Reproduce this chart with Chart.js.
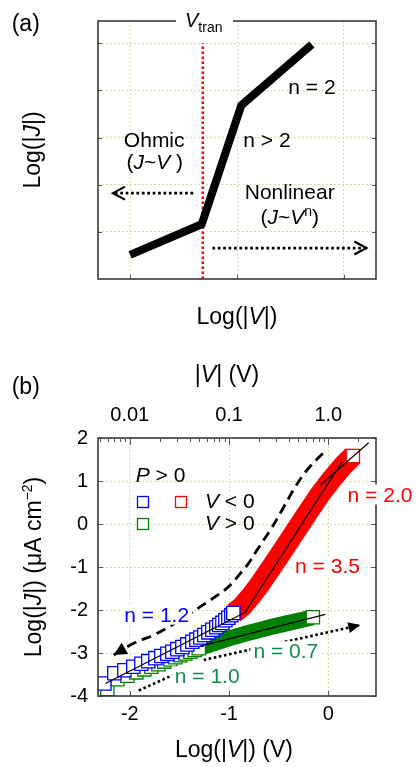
<!DOCTYPE html>
<html>
<head>
<meta charset="utf-8">
<script src="https://cdn.jsdelivr.net/npm/chart.js@4.4.0/dist/chart.umd.min.js"></script>
<style>
  html, body { margin: 0; padding: 0; background: #fff; }
  #wrapA { position: absolute; left: 0; top: 0; width: 419px; height: 340px; }
  #wrapB { position: absolute; left: 0; top: 360px; width: 419px; height: 407px; }
</style>
</head>
<body>
<div id="wrapA"><canvas id="chartA" width="419" height="340"></canvas></div>
<div id="wrapB"><canvas id="chartB" width="419" height="407"></canvas></div>
<script>
// ---- panel (a): schematic ----
const schemeX = [0, 0.67, 1.04, 1.70];
const schemeY = [0.51, 1.16, 3.68, 4.97];
const vtranX = [0.68, 0.68];
const vtranY = [0, 5];
const ohmicArrowX = [0.59, -0.16];
const ohmicArrowY = [1.82, 1.82];
const nonlinArrowX = [0.77, 2.21];
const nonlinArrowY = [0.656, 0.656];
const xTicksA = [0, 1, 2];
const yTicksA = [1, 2, 3, 4, 5];

// ---- panel (b): measured J-V ----
const blueLogV = [-2.256, -2.155, -2.054, -1.964, -1.883, -1.813, -1.742, -1.682, -1.621, -1.571, -1.521, -1.470, -1.420,
  -1.370, -1.329, -1.289, -1.249, -1.208, -1.168, -1.128, -1.098, -1.067, -1.037, -1.007, -0.977, -0.957];
const blueLogJ = [-3.71, -3.47, -3.40, -3.32, -3.25, -3.19, -3.12, -3.07, -3.02, -2.97, -2.91, -2.86, -2.80,
  -2.74, -2.69, -2.64, -2.58, -2.52, -2.46, -2.40, -2.35, -2.30, -2.24, -2.18, -2.12, -2.07];
const redLogV = [-0.95, -0.87, -0.78, -0.68, -0.56, -0.44, -0.32, -0.20, -0.08, 0.04, 0.15, 0.247];
const redLogJ = [-2.07, -1.92, -1.68, -1.37, -0.96, -0.55, -0.13, 0.29, 0.70, 1.06, 1.36, 1.58];
const greenLowV = [-2.226, -2.125, -2.024, -1.934, -1.853, -1.783, -1.712, -1.652, -1.591, -1.541, -1.491, -1.440, -1.390, -1.345, -1.305];
const greenLowJ = [-3.84, -3.61, -3.53, -3.45, -3.38, -3.32, -3.26, -3.20, -3.15, -3.10, -3.05, -3.01, -2.97, -2.93, -2.89];
const greenHighV = [-1.305, -1.15, -1.00, -0.85, -0.70, -0.55, -0.40, -0.25, -0.156];
const greenHighJ = [-2.89, -2.77, -2.66, -2.56, -2.47, -2.38, -2.30, -2.22, -2.17];

// fitted slopes
const fit12V = [-2.245, -0.826], fit12J = [-3.71, -2.04];
const fit35V = [-0.836, 0.138], fit35J = [-2.04, 1.45];
const fit20V = [-0.08, 0.406], fit20J = [0.907, 1.89];
const fit07V = [-1.289, -0.03], fit07J = [-2.84, -2.10];

// guide arrows
const dashV = [-2.162, -1.961, -1.759, -1.574, -1.390, -1.239, -1.088, -0.987, -0.886, -0.803, -0.718, -0.584, -0.466, -0.332, -0.215, -0.03];
const dashJ = [-3.047, -2.774, -2.581, -2.349, -2.077, -1.844, -1.612, -1.419, -1.147, -0.914, -0.605, -0.140, 0.326, 0.867, 1.256, 1.70];
const dot07V = [-1.256, 0.322], dot07J = [-3.163, -2.349];
const dot10V = [-1.91, -1.541], dot10J = [-3.872, -3.488];

const xTicksB = [-2, -1, 0];
const topTickV = [0.01, 0.1, 1];
const topTickLabels = ['0.01', '0.1', '1.0'];
const topMinorV = [0.005, 0.006, 0.007, 0.008, 0.009, 0.02, 0.03, 0.04, 0.05, 0.06, 0.07, 0.08, 0.09,
  0.2, 0.3, 0.4, 0.5, 0.6, 0.7, 0.8, 0.9, 2, 3];

const FONT = '"Liberation Sans", Arial, Helvetica, sans-serif';
const GRID = '#d5dfa2';
const FRAME = '#3a3a3a';
const RED = '#ff0000', BLUE = '#0000ff', GREEN = '#008000', GREEN_TXT = '#138a4c';

const xy = (xs, ys) => xs.map((x, i) => ({ x: x, y: ys[i] }));
const fnt = (size, it) => (it ? 'italic ' : '') + size + 'px ' + FONT;

// parts: [text, size, italic, rise]
function rich(ctx, parts, x, y, opt) {
  opt = opt || {};
  ctx.save();
  ctx.translate(x, y);
  if (opt.rot) ctx.rotate(opt.rot);
  let w = 0;
  const ws = parts.map(p => {
    ctx.font = fnt(p[1], p[2]);
    const m = ctx.measureText(p[0]).width;
    w += m;
    return m;
  });
  let cx = opt.align === 'left' ? 0 : -w / 2;
  if (opt.bg) {
    ctx.fillStyle = '#fff';
    ctx.fillRect(cx - 3, -opt.bg[0], w + 6, opt.bg[0] + opt.bg[1]);
  }
  ctx.fillStyle = opt.color || '#000';
  ctx.textAlign = 'left';
  ctx.textBaseline = 'alphabetic';
  parts.forEach((p, i) => {
    ctx.font = fnt(p[1], p[2]);
    ctx.fillText(p[0], cx, -(p[3] || 0));
    cx += ws[i];
  });
  ctx.restore();
}

function frameAndTicks(chart, yKey, xKey, len) {
  const ctx = chart.ctx, a = chart.chartArea;
  const ys = chart.scales[yKey], xs = chart.scales[xKey];
  ctx.save();
  ctx.strokeStyle = '#555';
  ctx.lineWidth = 1;
  ctx.beginPath();
  ys.ticks.forEach(t => {
    const p = Math.round(ys.getPixelForValue(t.value)) + 0.5;
    ctx.moveTo(a.left, p); ctx.lineTo(a.left + len, p);
    ctx.moveTo(a.right, p); ctx.lineTo(a.right - len, p);
  });
  xs.ticks.forEach(t => {
    const p = Math.round(xs.getPixelForValue(t.value)) + 0.5;
    ctx.moveTo(p, a.bottom); ctx.lineTo(p, a.bottom - len);
  });
  ctx.stroke();
  ctx.strokeStyle = FRAME;
  ctx.lineWidth = 1.6;
  ctx.strokeRect(a.left, a.top, a.right - a.left, a.bottom - a.top);
  ctx.restore();
}

function arrowHeads(chart) {
  const ctx = chart.ctx;
  chart.data.datasets.forEach((ds, di) => {
    if (!ds.arrow) return;
    const pts = chart.getDatasetMeta(di).data;
    const n = pts.length;
    const tip = ds.arrow.at === 'start' ? pts[0] : pts[n - 1];
    const from = ds.arrow.at === 'start' ? pts[1] : pts[n - 2];
    const ang = Math.atan2(tip.y - from.y, tip.x - from.x);
    ctx.save();
    ctx.translate(tip.x, tip.y);
    ctx.rotate(ang);
    ctx.beginPath();
    ctx.moveTo(-ds.arrow.len, -ds.arrow.half);
    ctx.lineTo(0, 0);
    ctx.lineTo(-ds.arrow.len, ds.arrow.half);
    if (ds.arrow.filled) {
      ctx.closePath();
      ctx.fillStyle = '#000';
      ctx.fill();
    } else {
      ctx.strokeStyle = '#000';
      ctx.lineWidth = 2.2;
      ctx.stroke();
    }
    ctx.restore();
  });
}

Chart.defaults.font.family = FONT;
Chart.defaults.color = '#000';

// ---------- (a) ----------
const decorA = {
  id: 'decorA',
  afterDatasetsDraw(chart) { arrowHeads(chart); },
  afterDraw(chart) {
    const ctx = chart.ctx;
    frameAndTicks(chart, 'y', 'x', 4);
    // gap in the top border for the V_tran label
    ctx.fillStyle = '#fff';
    ctx.fillRect(176, 12, 57, 20);
    rich(ctx, [['V', 20, true], ['tran', 14, false, -5]], 185, 27, { align: 'left' });
    rich(ctx, [['(a)', 23]], 11.7, 31, { align: 'left' });
    rich(ctx, [['Log(|', 23], ['V', 23, true], ['|)', 23]], 237, 324);
    rich(ctx, [['Log(|', 23], ['J', 23, true], ['|)', 23]], 40, 150, { rot: -Math.PI / 2 });
    rich(ctx, [['n = 2', 21]], 312, 93.5);
    rich(ctx, [['n > 2', 21]], 267, 146.7);
    rich(ctx, [['Ohmic', 21]], 154.2, 146.7);
    rich(ctx, [['(', 21], ['J', 21, true], ['~', 21], ['V ', 21, true], [')', 21]], 154.7, 169);
    rich(ctx, [['Nonlinear', 21]], 289.7, 199.3);
    rich(ctx, [['(', 21], ['J', 21, true], ['~', 21], ['V', 21, true], ['n', 14, false, 8], [')', 21]], 289.7, 223.5);
  }
};

new Chart(document.getElementById('chartA'), {
  type: 'scatter',
  data: {
    datasets: [
      { data: xy(schemeX, schemeY), showLine: true, borderColor: '#000', borderWidth: 8,
        borderJoinStyle: 'miter', borderCapStyle: 'butt', pointRadius: 0, order: 0 },
      { data: xy(vtranX, vtranY), showLine: true, borderColor: RED, borderWidth: 2.5,
        borderDash: [2.5, 2.5], pointRadius: 0, order: 1 },
      { data: xy(ohmicArrowX, ohmicArrowY), showLine: true, borderColor: '#000', borderWidth: 2.7,
        borderDash: [2.7, 2.7], pointRadius: 0, order: 2, arrow: { at: 'end', len: 12, half: 6.5 } },
      { data: xy(nonlinArrowX, nonlinArrowY), showLine: true, borderColor: '#000', borderWidth: 2.7,
        borderDash: [2.7, 2.7], pointRadius: 0, order: 2, arrow: { at: 'end', len: 12, half: 6.5 } }
    ]
  },
  options: {
    responsive: false,
    animation: false,
    layout: { padding: { top: 21, right: 43, left: 0, bottom: 0 } },
    plugins: { legend: { display: false }, tooltip: { enabled: false } },
    scales: {
      x: {
        type: 'linear', min: -0.3, max: 2.3,
        afterBuildTicks: s => { s.ticks = xTicksA.map(v => ({ value: v })); },
        afterFit: s => { s.height = 61; },
        ticks: { display: false },
        grid: { color: GRID, drawTicks: false },
        border: { display: false, dash: [2, 2] }
      },
      y: {
        type: 'linear', min: 0, max: 5.47,
        afterBuildTicks: s => { s.ticks = yTicksA.map(v => ({ value: v })); },
        afterFit: s => { s.width = 98; },
        ticks: { display: false },
        grid: { color: GRID, drawTicks: false },
        border: { display: false, dash: [2, 2] }
      }
    }
  },
  plugins: [decorA]
});

// ---------- (b) ----------
const decorB = {
  id: 'decorB',
  afterDatasetsDraw(chart) { arrowHeads(chart); },
  afterDraw(chart) {
    const ctx = chart.ctx, a = chart.chartArea;
    frameAndTicks(chart, 'y', 'x', 5);
    // minor / major ticks on the top |V| axis
    const top = chart.scales.x2;
    ctx.save();
    ctx.strokeStyle = '#555';
    ctx.lineWidth = 1;
    ctx.beginPath();
    topTickV.forEach(v => {
      const p = Math.round(top.getPixelForValue(Math.log10(v))) + 0.5;
      ctx.moveTo(p, a.top); ctx.lineTo(p, a.top + 7);
    });
    topMinorV.forEach(v => {
      const p = Math.round(top.getPixelForValue(Math.log10(v))) + 0.5;
      if (p < a.left + 1 || p > a.right - 1) return;
      ctx.moveTo(p, a.top); ctx.lineTo(p, a.top + 4);
    });
    ctx.stroke();
    ctx.restore();

    rich(ctx, [['(b)', 23]], 11.7, 34, { align: 'left' });
    rich(ctx, [['|', 23], ['V', 23, true], ['| (V)', 23]], 227, 22);
    rich(ctx, [['Log(|', 23], ['V', 23, true], ['|) (V)', 23]], 234, 397);
    rich(ctx, [['Log(|', 23], ['J', 23, true], ['|) (μA cm', 23], ['−2', 14, false, 9], [')', 23]], 41, 207,
      { rot: -Math.PI / 2 });

    // legend
    rich(ctx, [['P', 21, true], [' > 0', 21]], 135.7, 122, { align: 'left' });
    rich(ctx, [['V', 21, true], [' < 0', 21]], 205, 148, { align: 'left' });
    rich(ctx, [['V', 21, true], [' > 0', 21]], 205, 170, { align: 'left' });
    ctx.save();
    ctx.lineWidth = 1.3;
    [[143, 142, BLUE], [181, 142, RED], [143, 164, GREEN]].forEach(s => {
      ctx.fillStyle = '#fff';
      ctx.strokeStyle = s[2];
      ctx.fillRect(s[0] - 5.5, s[1] - 5.5, 11, 11);
      ctx.strokeRect(s[0] - 5.5, s[1] - 5.5, 11, 11);
    });
    ctx.restore();

    // slope labels
    const bg = [17, 3];
    rich(ctx, [['n = 2.0', 21]], 380, 141.5, { color: RED, bg: bg });
    rich(ctx, [['n = 3.5', 21]], 327.5, 213.3, { color: RED, bg: bg });
    rich(ctx, [['n = 1.2', 21]], 156.7, 261.7, { color: BLUE, bg: bg });
    rich(ctx, [['n = 0.7', 21]], 285.8, 298.3, { color: GREEN_TXT, bg: bg });
    rich(ctx, [['n = 1.0', 21]], 207.2, 323.3, { color: GREEN_TXT, bg: bg });
  }
};

const SQ = 9.4; // rect point radius -> ~13 px square
const lastOnly = n => c => (c.dataIndex === n - 1 ? SQ : 0);
const fitLine = (xs, ys) => ({
  data: xy(xs, ys), showLine: true, borderColor: '#000', borderWidth: 1.2, pointRadius: 0, order: 1
});

new Chart(document.getElementById('chartB'), {
  type: 'scatter',
  data: {
    datasets: [
      { data: xy(dashV, dashJ), showLine: true, tension: 0.35, borderColor: '#000', borderWidth: 2.8,
        borderDash: [10, 6], borderCapStyle: 'butt', pointRadius: 0, order: 0,
        arrow: { at: 'start', len: 13, half: 6.5, filled: true } },
      { data: xy(dot07V, dot07J), showLine: true, borderColor: '#000', borderWidth: 2.6,
        borderDash: [2.6, 2.6], pointRadius: 0, order: 0,
        arrow: { at: 'end', len: 12, half: 5.5, filled: true } },
      { data: xy(dot10V, dot10J), showLine: true, borderColor: '#000', borderWidth: 2.6,
        borderDash: [2.6, 2.6], pointRadius: 0, order: 0 },
      fitLine(fit12V, fit12J),
      fitLine(fit35V, fit35J),
      fitLine(fit20V, fit20J),
      fitLine(fit07V, fit07J),
      { data: xy(blueLogV, blueLogJ), pointStyle: 'rect', pointRadius: SQ, pointBorderWidth: 1.3,
        pointBorderColor: BLUE, pointBackgroundColor: '#fff', order: 2 },
      { data: xy(redLogV, redLogJ), showLine: true, borderColor: RED, borderWidth: 21,
        borderJoinStyle: 'round', borderCapStyle: 'butt', pointStyle: 'rect',
        pointRadius: lastOnly(redLogV.length), pointBorderWidth: 1.3,
        pointBorderColor: RED, pointBackgroundColor: '#fff', order: 3 },
      { data: xy(greenLowV, greenLowJ), pointStyle: 'rect', pointRadius: SQ, pointBorderWidth: 1.3,
        pointBorderColor: GREEN, pointBackgroundColor: '#fff', order: 4 },
      { data: xy(greenHighV, greenHighJ), showLine: true, borderColor: GREEN, borderWidth: 16,
        borderJoinStyle: 'round', borderCapStyle: 'butt', pointStyle: 'rect',
        pointRadius: lastOnly(greenHighV.length), pointBorderWidth: 1.3,
        pointBorderColor: GREEN, pointBackgroundColor: '#fff', order: 5 }
    ]
  },
  options: {
    responsive: false,
    animation: false,
    layout: { padding: { top: 0, right: 43, left: 0, bottom: 0 } },
    plugins: { legend: { display: false }, tooltip: { enabled: false } },
    scales: {
      x: {
        type: 'linear', position: 'bottom', min: -2.32, max: 0.48,
        afterBuildTicks: s => { s.ticks = xTicksB.map(v => ({ value: v })); },
        afterFit: s => { s.height = 71; },
        ticks: { font: { size: 20 }, padding: 6 },
        grid: { color: GRID, drawTicks: false },
        border: { display: false, dash: [2, 2] }
      },
      x2: {
        type: 'linear', position: 'top', min: -2.32, max: 0.48,
        afterBuildTicks: s => { s.ticks = topTickV.map(v => ({ value: Math.log10(v) })); },
        afterFit: s => { s.height = 78; },
        ticks: { font: { size: 20 }, padding: 11, callback: (v, i) => topTickLabels[i] },
        grid: { display: false, drawTicks: false },
        border: { display: false }
      },
      y: {
        type: 'linear', min: -4, max: 2,
        afterFit: s => { s.width = 98; },
        ticks: { stepSize: 1, font: { size: 20 }, padding: 10 },
        grid: { color: GRID, drawTicks: false },
        border: { display: false, dash: [2, 2] }
      }
    }
  },
  plugins: [decorB]
});
</script>
</body>
</html>
